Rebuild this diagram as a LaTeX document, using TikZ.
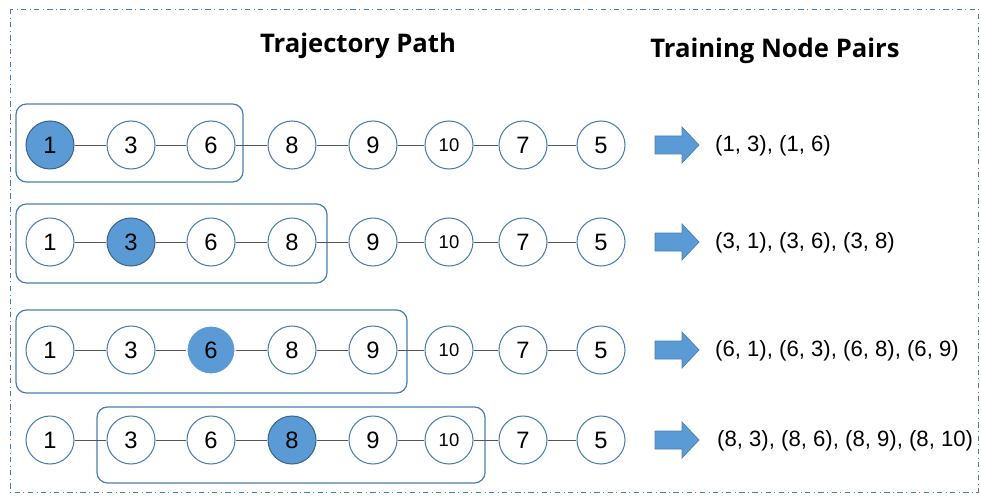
\documentclass[tikz,border=0pt]{standalone}
\usepackage{fontspec}
\setmainfont{Liberation Sans}
\newfontfamily\titlefont{Open Sans}
\usetikzlibrary{positioning}
\definecolor{nodeblue}{HTML}{5B9BD5}
\definecolor{rimblue}{HTML}{4A7EB0}
\definecolor{edgegrey}{HTML}{555555}

\begin{document}
\begin{tikzpicture}[x=0.02cm,y=-0.02cm,
      tn/.style={circle,draw=rimblue,line width=0.6pt,fill=white,minimum size=0.96cm,inner sep=0pt,font=\fontsize{13.5}{15}\selectfont},
      hot/.style={tn,fill=nodeblue,draw=rimblue!80!black},
      small/.style={font=\fontsize{10.5}{12}\selectfont},
      win/.style={draw=rimblue,line width=0.7pt,rounded corners=6pt},
      link/.style={edgegrey,line width=0.5pt},
      pairs/.style={anchor=west,font=\fontsize{12.6}{14}\selectfont},
      heading/.style={font=\titlefont\bfseries\fontsize{14.6}{18}\selectfont},
      bigarrow/.style={fill=nodeblue,draw=rimblue,line width=0.4pt}]
    \useasboundingbox (0,0) rectangle (981,500);
    \draw[rimblue,line width=0.5pt,dash dot] (10,9) rectangle (978,492);
    \node[heading] (ttl1) at (358,46) {Trajectory Path};
    \node[heading] (ttl2) at (775,51) {Training Node Pairs};
    % row 1
    \draw[win] (16,104) rectangle (243,182);
    \node[hot] (a1) at (50,145) {1};
    \node[tn] (a2) at (131,145) {3};
    \node[tn] (a3) at (211,145) {6};
    \node[tn] (a4) at (292,145) {8};
    \node[tn] (a5) at (373,145) {9};
    \node[tn,small] (a6) at (449,145) {10};
    \node[tn] (a7) at (523,145) {7};
    \node[tn] (a8) at (601,145) {5};
    \draw[link] (a1)--(a2) (a2)--(a3) (a3)--(a4) (a4)--(a5) (a5)--(a6) (a6)--(a7) (a7)--(a8);
    % row 2
    \draw[win] (16,204) rectangle (327,283);
    \node[tn] (b1) at (50,242) {1};
    \node[hot] (b2) at (131,242) {3};
    \node[tn] (b3) at (211,242) {6};
    \node[tn] (b4) at (292,242) {8};
    \node[tn] (b5) at (373,242) {9};
    \node[tn,small] (b6) at (449,242) {10};
    \node[tn] (b7) at (523,242) {7};
    \node[tn] (b8) at (601,242) {5};
    \draw[link] (b1)--(b2) (b2)--(b3) (b3)--(b4) (b4)--(b5) (b5)--(b6) (b6)--(b7) (b7)--(b8);
    % row 3
    \draw[win] (16,310) rectangle (407,393);
    \node[tn] (c1) at (50,350) {1};
    \node[tn] (c2) at (131,350) {3};
    \node[hot,draw=white] (c3) at (211,350) {6};
    \node[tn] (c4) at (292,350) {8};
    \node[tn] (c5) at (373,350) {9};
    \node[tn,small] (c6) at (449,350) {10};
    \node[tn] (c7) at (523,350) {7};
    \node[tn] (c8) at (601,350) {5};
    \draw[link] (c1)--(c2) (c2)--(c3) (c3)--(c4) (c4)--(c5) (c5)--(c6) (c6)--(c7) (c7)--(c8);
    % row 4
    \draw[win] (97,407) rectangle (485,483);
    \node[tn] (d1) at (50,440) {1};
    \node[tn] (d2) at (131,440) {3};
    \node[tn] (d3) at (211,440) {6};
    \node[hot] (d4) at (292,440) {8};
    \node[tn] (d5) at (373,440) {9};
    \node[tn,small] (d6) at (449,440) {10};
    \node[tn] (d7) at (523,440) {7};
    \node[tn] (d8) at (601,440) {5};
    \draw[link] (d1)--(d2) (d2)--(d3) (d3)--(d4) (d4)--(d5) (d5)--(d6) (d6)--(d7) (d7)--(d8);
    % arrows and pairs
    \foreach \yy/\nm in {145/p1,242/p2,350/p3,440/p4}{
      \coordinate (\nm) at (655,\yy);
      \draw[bigarrow] (655,\yy-9) -- (682,\yy-9) -- (682,\yy-18) -- (699,\yy) -- (682,\yy+18) -- (682,\yy+9) -- (655,\yy+9) -- cycle;
    }
    \node[pairs] (q1) at (709,146) {(1, 3), (1, 6)};
    \node[pairs] (q2) at (709,243) {(3, 1), (3, 6), (3, 8)};
    \node[pairs] (q3) at (709,351) {(6, 1), (6, 3), (6, 8), (6, 9)};
    \node[pairs] (q4) at (711,441) {(8, 3), (8, 6), (8, 9), (8, 10)};
  \end{tikzpicture}
\end{document}
